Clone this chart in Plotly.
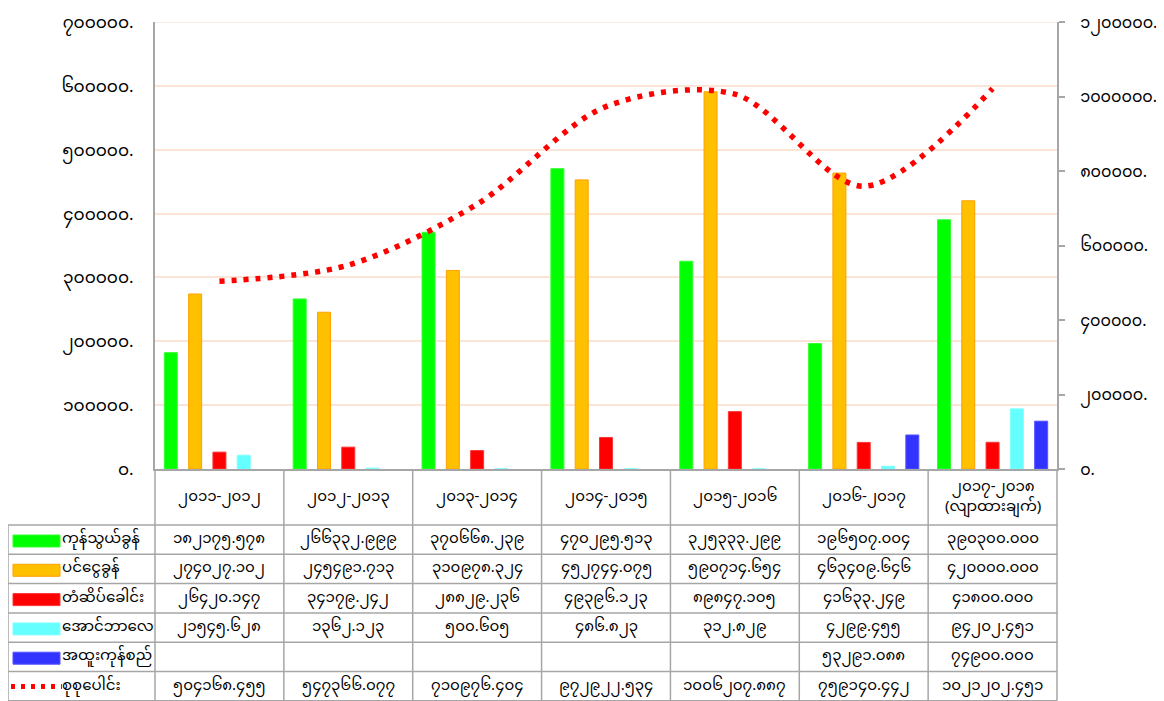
import plotly.graph_objects as go

# Myanmar digits for labels
MM_DIGITS = str.maketrans("0123456789", "၀၁၂၃၄၅၆၇၈၉")


def mm(text):
    return str(text).translate(MM_DIGITS)


# --- data ---
years = ["၂၀၁၁-၂၀၁၂", "၂၀၁၂-၂၀၁၃", "၂၀၁၃-၂၀၁၄", "၂၀၁၄-၂၀၁၅",
         "၂၀၁၅-၂၀၁၆", "၂၀၁၆-၂၀၁၇", "၂၀၁၇-၂၀၁၈"]
year_headers = years[:-1] + ["၂၀၁၇-၂၀၁၈<br>(လျာထားချက်)"]

series_names = ["ကုန်သွယ်ခွန်", "ပင်ငွေခွန်", "တံဆိပ်ခေါင်း", "အောင်ဘာလေ", "အထူးကုန်စည်"]
trade_tax = [182175.578, 266332.999, 370668.239, 470295.513, 325333.299, 196507.004, 390300.000]
income_tax = [274027.102, 245491.713, 310978.324, 452744.075, 590714.654, 463409.646, 420000.000]
stamp_duty = [26420.147, 34179.242, 28829.236, 49396.123, 89847.105, 41633.249, 41800.000]
lottery = [21545.628, 1362.123, 500.605, 486.823, 312.829, 4299.455, 94202.451]
special_goods = [None, None, None, None, None, 53291.088, 74900.000]
total_name = "စုစုပေါင်း"
total = [504168.455, 547366.077, 710976.404, 972922.534, 1006207.887, 759140.442, 1021202.451]

left_ticks = [0, 100000, 200000, 300000, 400000, 500000, 600000, 700000]
right_ticks = [0, 200000, 400000, 600000, 800000, 1000000, 1200000]

# --- styles ---
fill_colors = ["#00FF00", "#FFC000", "#FF0000", "#66FFFF", "#3333FF"]
edge_colors = ["#33FF33", "#FFA000", "#FF3333", "#80FFFF", "#5555FF"]
line_red = "#FF0000"
grid_col = "#FCE4D6"
border_col = "#A6A6A6"
FONT = "Noto Sans Myanmar, Padauk, Myanmar Text, Noto Sans, sans-serif"

# page body adds an 8px offset; sizes below are in screen pixels
OFF = 8
W, H = 1164 - OFF, 701 - OFF
plot_l, plot_r, plot_t, plot_b = 155, 1057, 22, 469
L, R, T, B = plot_l - OFF, W - (plot_r - OFF), plot_t - OFF, H - (plot_b - OFF)
PW, PH = plot_r - plot_l, plot_b - plot_t


def px_x(px):
    return (px - plot_l) / PW


def px_y(py):
    return (plot_b - py) / PH


fig = go.Figure()

bar_series = [trade_tax, income_tax, stamp_duty, lottery, special_goods]
for name, vals, fc, ec in zip(series_names, bar_series, fill_colors, edge_colors):
    fig.add_trace(go.Bar(
        x=years, y=vals, name=name,
        marker=dict(color=fc, line=dict(color=ec, width=1)),
        showlegend=False
    ))

fig.add_trace(go.Scatter(
    x=years, y=total, name=total_name, yaxis="y2", mode="lines",
    line=dict(color=line_red, width=5.5, dash="5px,7px", shape="spline", smoothing=0.9),
    showlegend=False
))

# --- table below the plot ---
header_top, header_bot = 469, 525
row_h = 29.3
n_rows = 6
table_bot = header_bot + row_h * n_rows
left_edge = 8

shapes = []
# top gridline (plotly skips the one on the range edge)
shapes.append(dict(type="line", xref="paper", yref="y", x0=0, x1=1,
                   y0=left_ticks[-1], y1=left_ticks[-1], layer="below",
                   line=dict(color=grid_col, width=1.5)))
line_style = dict(color=border_col, width=1.5)
# vertical lines of the year columns
for k in range(len(years) + 1):
    shapes.append(dict(type="line", xref="paper", yref="paper",
                       x0=k / len(years), x1=k / len(years),
                       y0=px_y(header_top), y1=px_y(table_bot), line=line_style))
# left border of label column
shapes.append(dict(type="line", xref="paper", yref="paper",
                   x0=px_x(left_edge), x1=px_x(left_edge),
                   y0=px_y(header_bot), y1=px_y(table_bot), line=line_style))
# horizontal lines
for r in range(n_rows + 1):
    yy = px_y(header_bot + row_h * r)
    shapes.append(dict(type="line", xref="paper", yref="paper",
                       x0=px_x(left_edge), x1=1, y0=yy, y1=yy, line=line_style))

annotations = []
cell_font = dict(family=FONT, size=15, color="#000000")
for yr, hdr in zip(years, year_headers):
    annotations.append(dict(x=yr, xref="x", y=px_y((header_top + header_bot) / 2), yref="paper",
                            yanchor="middle", xanchor="center",
                            text=hdr, showarrow=False, font=cell_font, align="center"))

table_series = bar_series + [total]
table_names = series_names + [total_name]
for r, (name, vals) in enumerate(zip(table_names, table_series)):
    cy = px_y(header_bot + row_h * r + row_h / 2)
    for yr, v in zip(years, vals):
        if v is None:
            continue
        annotations.append(dict(x=yr, xref="x", y=cy, yref="paper",
                                yanchor="middle", xanchor="center",
                                text=mm(f"{v:.3f}"), showarrow=False, font=cell_font))
    # row label
    annotations.append(dict(x=px_x(60), xref="paper", y=cy, yref="paper",
                            xanchor="left", yanchor="middle",
                            text=name, showarrow=False, font=cell_font))
    # legend key
    if r < len(fill_colors):
        shapes.append(dict(type="rect", xref="paper", yref="paper",
                           x0=px_x(13), x1=px_x(60),
                           y0=px_y(header_bot + row_h * r + 10), y1=px_y(header_bot + row_h * r + 22),
                           fillcolor=fill_colors[r], line=dict(color=edge_colors[r], width=1)))
    else:
        yy = px_y(header_bot + row_h * r + 15)
        shapes.append(dict(type="line", xref="paper", yref="paper",
                           x0=px_x(11), x1=px_x(62), y0=yy, y1=yy,
                           line=dict(color=line_red, width=5, dash="4px,6px")))

fig.update_layout(
    width=W, height=H,
    margin=dict(l=L, r=R, t=T, b=B, autoexpand=False),
    plot_bgcolor="#FFFFFF", paper_bgcolor="#FFFFFF",
    font=dict(family=FONT, size=16, color="#000000"),
    barmode="group", bargap=0.057, bargroupgap=0.465,
    showlegend=False,
    shapes=shapes, annotations=annotations,
)

fig.update_xaxes(showticklabels=False, ticks="", showgrid=False, zeroline=False,
                 showline=True, linecolor=border_col, linewidth=2, automargin=False)
fig.update_layout(
    yaxis=dict(range=[0, 700000], tickvals=left_ticks,
               ticktext=[mm(t) + "." for t in left_ticks],
               showgrid=True, gridcolor=grid_col, gridwidth=1.5, zeroline=False,
               showline=True, linecolor=border_col, linewidth=2, automargin=False,
               ticks="", ticklabelstandoff=16, ticklabeloverflow="allow",
               tickfont=dict(size=17)),
    yaxis2=dict(range=[0, 1200000], tickvals=right_ticks,
                ticktext=[mm(t) + "." for t in right_ticks],
                overlaying="y", side="right", showgrid=False, zeroline=False,
                showline=True, linecolor=border_col, linewidth=2, automargin=False,
                ticks="outside", ticklen=6, tickcolor=border_col, tickwidth=1.5,
                ticklabelstandoff=12, ticklabeloverflow="allow",
                tickfont=dict(size=16)),
)

fig.write_html("out.html")
